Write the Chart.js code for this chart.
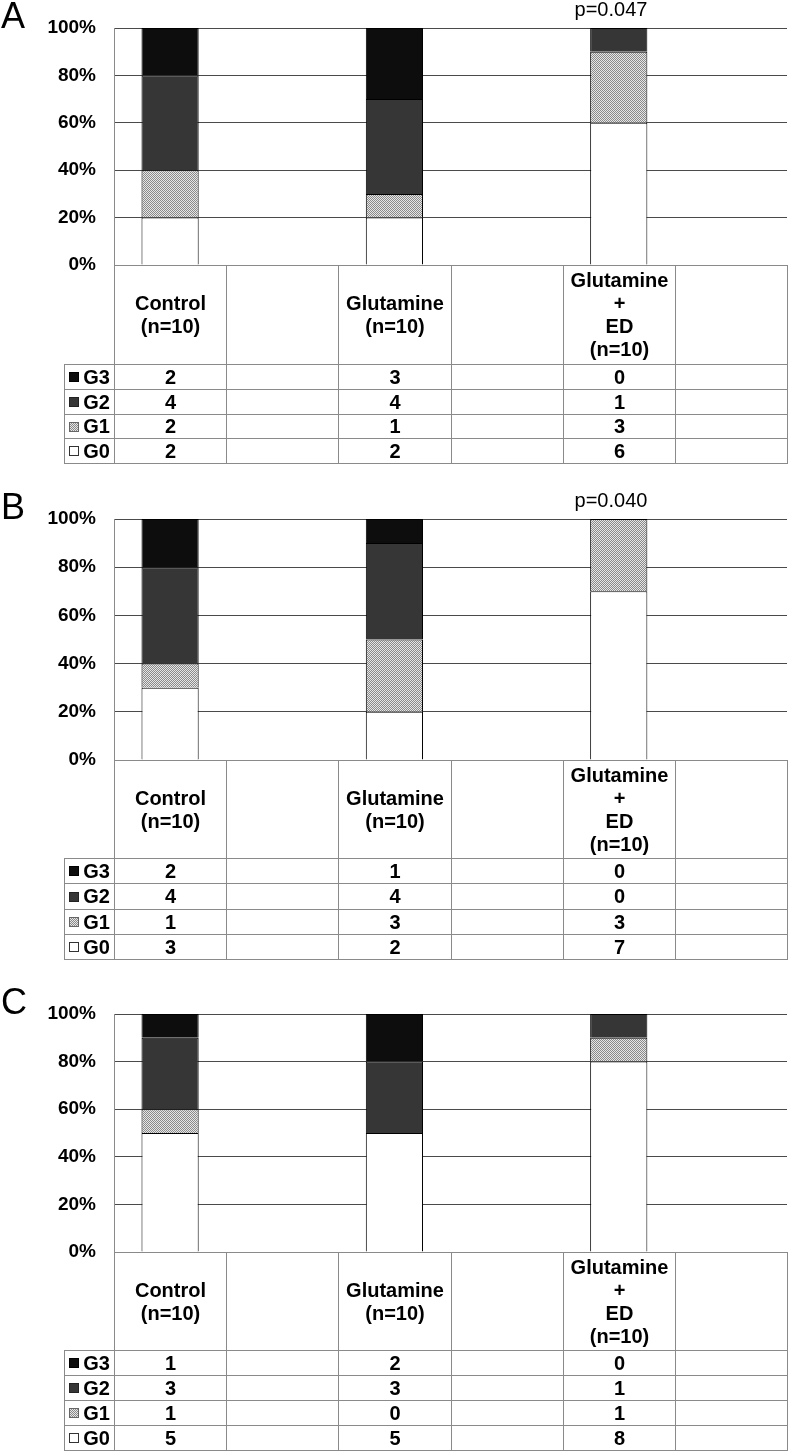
<!DOCTYPE html>
<html>
<head>
<meta charset="utf-8">
<script src="https://cdn.jsdelivr.net/npm/chart.js@4/dist/chart.umd.min.js"></script>
<style>
  html, body { margin: 0; padding: 0; background: #fff; }
  body { width: 788px; height: 1452px; position: relative; overflow: hidden;
         font-family: "Liberation Sans", Arial, sans-serif; color: #000; }
  .abs { position: absolute; }
  .letter { font-size: 36px; line-height: 36px; left: 1px; }
  .pval { font-size: 20px; line-height: 20px; width: 200px; text-align: center; }
  .cell { position: absolute; box-sizing: border-box; border: 1px solid #8a8a8a;
          display: flex; align-items: center; justify-content: center; text-align: center;
          font-weight: bold; font-size: 20px; line-height: 23px; }
  .sw { display: inline-block; width: 10px; height: 10px; box-sizing: border-box;
        border: 1px solid #333; margin-right: 4px; }
</style>
</head>
<body>
<script>
// ── Dados ───────────────────────────────────────────────────────────────────
const groupLabels = [['Control', '(n=10)'], ['Glutamine', '(n=10)'], ['Glutamine', '+', 'ED', '(n=10)']];
const gradeNames = ['G3', 'G2', 'G1', 'G0'];
const panelLetters = ['A', 'B', 'C'];
const pValues = ['p=0.047', 'p=0.040', ''];
const yTicks = [0, 20, 40, 60, 80, 100];

// contagens por grau: [Control, Glutamine, Glutamine+ED]
const aG3 = [2, 3, 0], aG2 = [4, 4, 1], aG1 = [2, 1, 3], aG0 = [2, 2, 6];
const bG3 = [2, 1, 0], bG2 = [4, 4, 0], bG1 = [1, 3, 3], bG0 = [3, 2, 7];
const cG3 = [1, 2, 0], cG2 = [3, 3, 1], cG1 = [1, 0, 1], cG0 = [5, 5, 8];
const counts = [[aG3, aG2, aG1, aG0], [bG3, bG2, bG1, bG0], [cG3, cG2, cG1, cG0]];

// ── Layout (posições em px) ─────────────────────────────────────────────────
const layoutTop = [28, 519, 1014];     // linha 100%
const layoutBase = [265, 760, 1252];   // linha 0%
const layoutHead = [364, 858, 1350];   // fim do cabeçalho da tabela
const rowH = [24.75, 25.25, 25];
const pad = 40;                        // margem do canvas acima/abaixo da área do gráfico
const plotL = 114, plotR = 787, legL = 64;

// padrão quadriculado do G1
const pc = document.createElement('canvas'); pc.width = 2; pc.height = 2;
const px = pc.getContext('2d');
px.fillStyle = '#e6e6e6'; px.fillRect(0, 0, 2, 2);
px.fillStyle = '#8a8a8a'; px.fillRect(0, 0, 1, 1); px.fillRect(1, 1, 1, 1);

const fills = { G3: '#0d0d0d', G2: '#363636', G0: '#ffffff' };
const swatchCss = {
    G3: 'background:#0d0d0d;border-color:#000',
    G2: 'background:#363636;border-color:#222',
    G1: 'background:repeating-conic-gradient(#8a8a8a 0 25%, #e6e6e6 0 50%) 0 0/2px 2px;border-color:#666',
    G0: 'background:#fff;border-color:#333',
};

const body = document.body;
const colW = (plotR - plotL) / 6;
const colX = j => Math.round(plotL + j * colW);

function addDiv(cls, style, html) {
    const d = document.createElement('div');
    d.className = cls;
    d.style.cssText = style;
    d.innerHTML = html;
    body.appendChild(d);
    return d;
}

panelLetters.forEach((L, p) => {
    const T = layoutTop[p], B = layoutBase[p], H = layoutHead[p];

    // gráfico (canvas mais alto que a área, com padding igual nos dois lados)
    const cv = document.createElement('canvas');
    const ct = T - pad, h = B - T + 2 * pad;
    cv.width = 788; cv.height = h;
    cv.style.cssText = `position:absolute;left:0;top:${ct}px;width:788px;height:${h}px`;
    body.appendChild(cv);
    const ctx = cv.getContext('2d');
    const g1Fill = ctx.createPattern(pc, 'repeat');

    // letra do painel e valor p
    addDiv('abs letter', `top:${T - 30}px`, L);
    if (pValues[p]) addDiv('abs pval', `left:${611 - 100}px;top:${T - 29}px`, pValues[p]);

    const spread = arr => [arr[0], null, arr[1], null, arr[2], null];
    const total = [0, 1, 2].map(i => counts[p].reduce((s, g) => s + g[i], 0));
    const pct = arr => spread(arr.map((v, i) => v / total[i] * 100));

    // de baixo para cima: G0, G1, G2, G3
    const order = [3, 2, 1, 0];
    const datasets = order.map(k => ({
        label: gradeNames[k],
        data: pct(counts[p][k]),
        backgroundColor: gradeNames[k] === 'G1' ? g1Fill : fills[gradeNames[k]],
        borderColor: '#000',
        borderWidth: 1,
        barPercentage: 0.51,
        categoryPercentage: 1,
    }));

    new Chart(cv, {
        type: 'bar',
        data: { labels: ['Control', '', 'Glutamine', '', 'Glutamine + ED', ''], datasets },
        options: {
            responsive: false,
            animation: false,
            layout: { padding: { top: pad, bottom: pad, left: 0, right: 1 } },
            plugins: { legend: { display: false }, tooltip: { enabled: false } },
            scales: {
                x: { stacked: true, display: false },
                y: {
                    stacked: true, min: 0, max: 100,
                    afterFit: s => { s.width = plotL; },
                    afterBuildTicks: s => { s.ticks = yTicks.map(v => ({ value: v })); },
                    ticks: {
                        padding: 18, color: '#000',
                        font: { family: "'Liberation Sans', Arial, sans-serif", size: 19, weight: 'bold' },
                        callback: v => v + '%',
                    },
                    grid: { color: '#4a4a4a', drawTicks: false },
                    border: { display: true, color: '#8a8a8a' },
                },
            },
        },
    });

    // tabela: cabeçalho
    for (let j = 0; j < 6; j++) {
        const x0 = colX(j), x1 = colX(j + 1);
        const lab = j % 2 === 0 ? groupLabels[j / 2].join('<br>') : '';
        addDiv('cell', `left:${x0}px;top:${B}px;width:${x1 - x0 + 1}px;height:${H - B + 1}px`, lab);
    }
    // tabela: linhas G3..G0
    gradeNames.forEach((g, r) => {
        const y0 = Math.round(H + r * rowH[p]), y1 = Math.round(H + (r + 1) * rowH[p]);
        const hh = y1 - y0 + 1;
        addDiv('cell', `left:${legL}px;top:${y0}px;width:${plotL - legL + 1}px;height:${hh}px`,
            `<span class="sw" style="${swatchCss[g]}"></span>${g}`);
        for (let j = 0; j < 6; j++) {
            const x0 = colX(j), x1 = colX(j + 1);
            const v = j % 2 === 0 ? counts[p][r][j / 2] : '';
            addDiv('cell', `left:${x0}px;top:${y0}px;width:${x1 - x0 + 1}px;height:${hh}px`, String(v));
        }
    });
});
</script>
</body>
</html>
